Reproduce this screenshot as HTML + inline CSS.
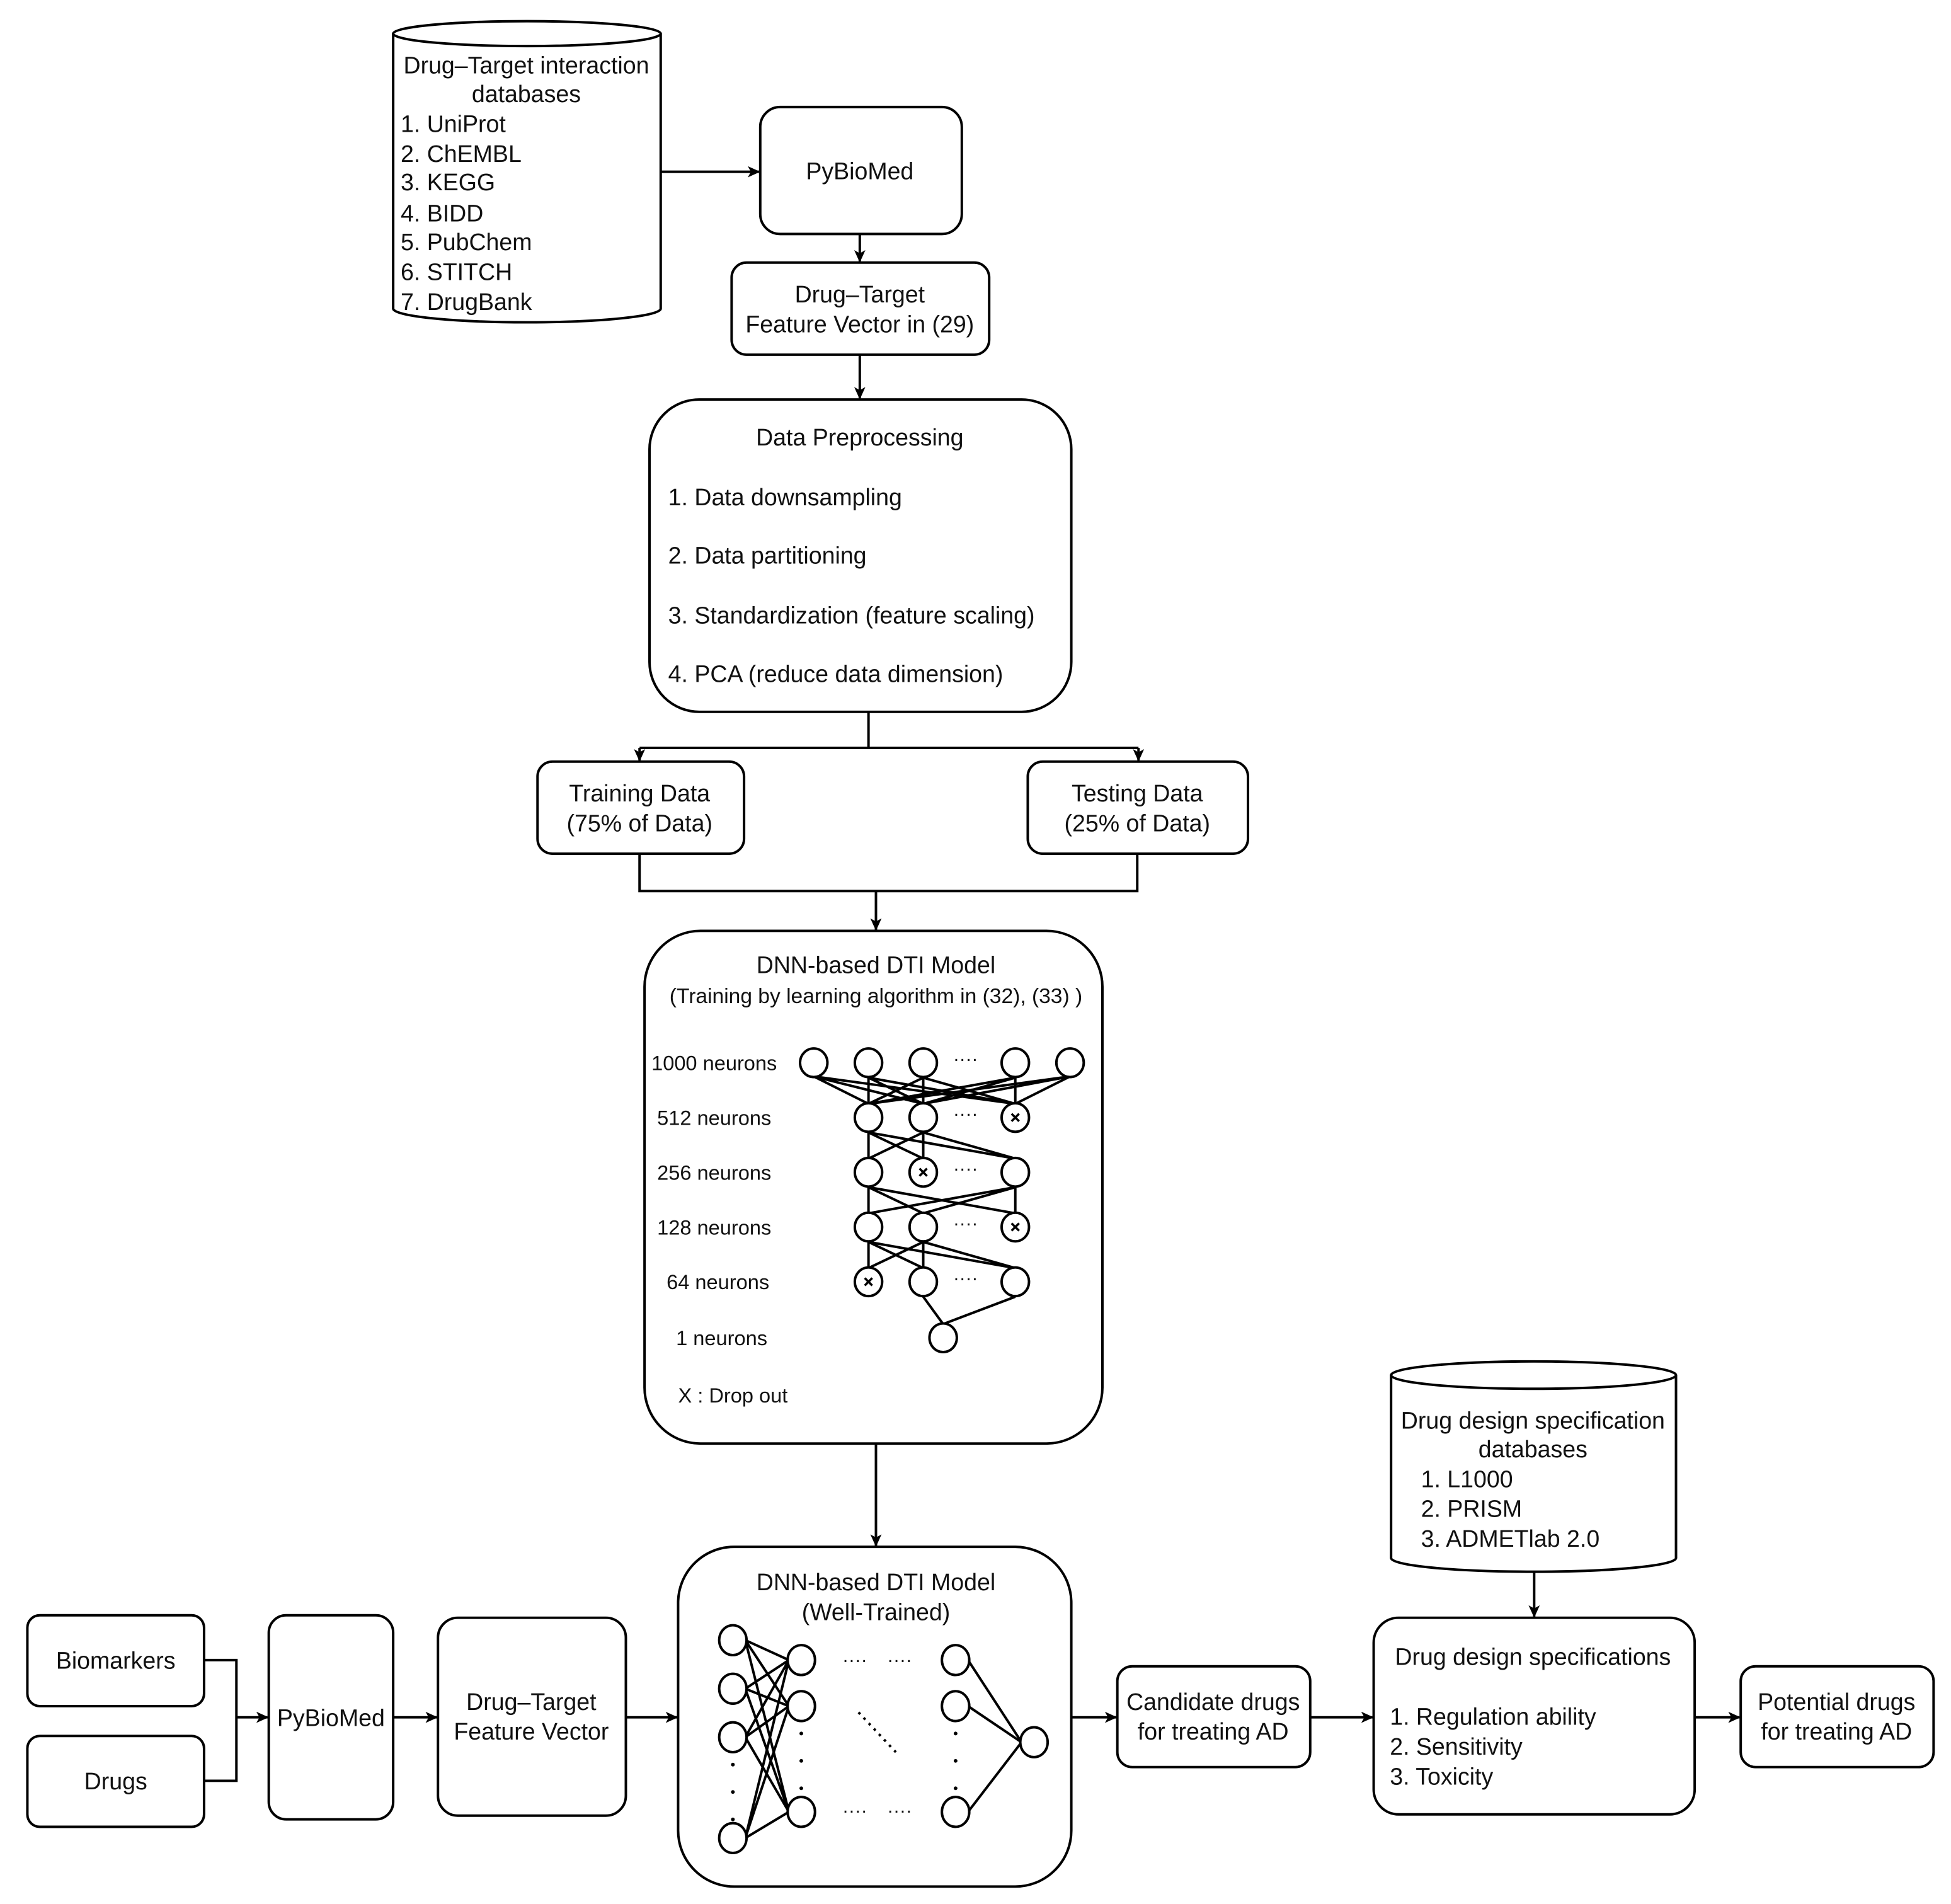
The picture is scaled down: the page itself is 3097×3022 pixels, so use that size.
<!DOCTYPE html>
<html><head><meta charset="utf-8"><style>html,body{margin:0;padding:0;background:#fff}svg{display:block}text{font-family:"Liberation Sans",Arial,sans-serif;fill:#111}</style></head><body>
<svg xmlns="http://www.w3.org/2000/svg" width="3097" height="3022" viewBox="0 0 1568 1530">
<defs><marker id="a" markerWidth="10" markerHeight="10" refX="9" refY="5" orient="auto" markerUnits="userSpaceOnUse"><path d="M0,0.5 L10,5 L0,9.5 L2.5,5 Z" fill="#000"/></marker></defs>
<g fill="none" stroke="#000" stroke-width="2">
<path d="M316,27 L316,248 A107.5,11 0 0 0 531,248 L531,27"/>
<ellipse cx="423.5" cy="27" rx="107.5" ry="10" fill="#fff"/>
<line x1="531" y1="138" x2="610" y2="138" marker-end="url(#a)"/>
<rect x="611" y="86" width="162" height="102" rx="16"/>
<line x1="691" y1="188" x2="691" y2="210" marker-end="url(#a)"/>
<rect x="588" y="211" width="207" height="74" rx="12"/>
<line x1="691" y1="285" x2="691" y2="320" marker-end="url(#a)"/>
<rect x="522" y="321" width="339" height="251" rx="40"/>
<path d="M698,572 V601 M514,601 H915"/>
<line x1="514" y1="601" x2="514" y2="611" marker-end="url(#a)"/>
<line x1="915" y1="601" x2="915" y2="611" marker-end="url(#a)"/>
<rect x="432" y="612" width="166" height="74" rx="12"/>
<rect x="826" y="612" width="177" height="74" rx="12"/>
<path d="M514,686 V716 H914 V686"/>
<line x1="704" y1="716" x2="704" y2="747" marker-end="url(#a)"/>
<rect x="518" y="748" width="368" height="412" rx="45"/>
<line x1="704" y1="1160" x2="704" y2="1242" marker-end="url(#a)"/>
<rect x="545" y="1243" width="316" height="273" rx="45"/>
<rect x="22" y="1298" width="142" height="73" rx="10"/>
<rect x="22" y="1395" width="142" height="73" rx="10"/>
<path d="M164,1334 H190 V1431 H164"/>
<line x1="190" y1="1380" x2="215" y2="1380" marker-end="url(#a)"/>
<rect x="216" y="1298" width="100" height="164" rx="14"/>
<line x1="316" y1="1380" x2="351" y2="1380" marker-end="url(#a)"/>
<rect x="352" y="1300" width="151" height="159" rx="16"/>
<line x1="503" y1="1380" x2="544" y2="1380" marker-end="url(#a)"/>
<line x1="861" y1="1380" x2="897" y2="1380" marker-end="url(#a)"/>
<rect x="898" y="1339" width="155" height="81" rx="12"/>
<line x1="1053" y1="1380" x2="1103" y2="1380" marker-end="url(#a)"/>
<rect x="1104" y="1300" width="258" height="158" rx="20"/>
<line x1="1362" y1="1380" x2="1398" y2="1380" marker-end="url(#a)"/>
<rect x="1399" y="1339" width="155" height="81" rx="12"/>
<path d="M1118,1105 L1118,1252 A114.5,11 0 0 0 1347,1252 L1347,1105"/>
<ellipse cx="1232.5" cy="1105" rx="114.5" ry="11" fill="#fff"/>
<line x1="1233" y1="1263" x2="1233" y2="1299" marker-end="url(#a)"/>
<path d="M654,865 L698,887 M654,865 L742,887 M654,865 L816,887
M698,866 L698,887 M698,866 L742,887 M698,866 L816,887
M742,866 L698,887 M742,866 L742,887 M742,866 L816,887
M816,866 L698,887 M816,866 L742,887 M816,866 L816,887
M860,865 L698,887 M860,865 L742,887 M860,865 L816,887
M698,910 L698,931 M698,910 L742,931 M698,910 L816,931
M742,910 L698,931 M742,910 L742,931 M742,910 L816,931
M698,954 L698,975 M698,954 L742,975 M698,954 L816,975
M816,954 L698,975 M816,954 L742,975 M816,954 L816,975
M698,998 L698,1019 M698,998 L742,1019 M698,998 L816,1019
M742,998 L698,1019 M742,998 L742,1019 M742,998 L816,1019
M742,1042 L758,1064 M816,1042 L758,1064"/>
<g fill="#fff">
<ellipse cx="654" cy="854" rx="11" ry="11.5"/><ellipse cx="698" cy="854" rx="11" ry="11.5"/><ellipse cx="742" cy="854" rx="11" ry="11.5"/><ellipse cx="816" cy="854" rx="11" ry="11.5"/><ellipse cx="860" cy="854" rx="11" ry="11.5"/>
<ellipse cx="698" cy="898" rx="11" ry="11.5"/><ellipse cx="742" cy="898" rx="11" ry="11.5"/><ellipse cx="816" cy="898" rx="11" ry="11.5"/>
<ellipse cx="698" cy="942" rx="11" ry="11.5"/><ellipse cx="742" cy="942" rx="11" ry="11.5"/><ellipse cx="816" cy="942" rx="11" ry="11.5"/>
<ellipse cx="698" cy="986" rx="11" ry="11.5"/><ellipse cx="742" cy="986" rx="11" ry="11.5"/><ellipse cx="816" cy="986" rx="11" ry="11.5"/>
<ellipse cx="698" cy="1030" rx="11" ry="11.5"/><ellipse cx="742" cy="1030" rx="11" ry="11.5"/><ellipse cx="816" cy="1030" rx="11" ry="11.5"/>
<ellipse cx="758" cy="1075" rx="11" ry="11.5"/>
</g>
<path stroke-width="1.8" d="M813,895 l6,6 m0,-6 l-6,6 M739,939 l6,6 m0,-6 l-6,6 M813,983 l6,6 m0,-6 l-6,6 M695,1027 l6,6 m0,-6 l-6,6"/>
<path d="M599,1318 L634,1334 M599,1318 L634,1371 M599,1318 L634,1456
M599,1357 L634,1334 M599,1357 L634,1371 M599,1357 L634,1456
M599,1396 L634,1334 M599,1396 L634,1371 M599,1396 L634,1456
M599,1477 L634,1334 M599,1477 L634,1371 M599,1477 L634,1456
M778,1334 L821,1400 M778,1371 L821,1400 M778,1456 L821,1400"/>
<g fill="#fff">
<ellipse cx="589" cy="1318" rx="11" ry="12"/><ellipse cx="589" cy="1357" rx="11" ry="12"/><ellipse cx="589" cy="1396" rx="11" ry="12"/><ellipse cx="589" cy="1477" rx="11" ry="12"/>
<ellipse cx="644" cy="1334" rx="11" ry="12"/><ellipse cx="644" cy="1371" rx="11" ry="12"/><ellipse cx="644" cy="1456" rx="11" ry="12"/>
<ellipse cx="768" cy="1334" rx="11" ry="12"/><ellipse cx="768" cy="1371" rx="11" ry="12"/><ellipse cx="768" cy="1456" rx="11" ry="12"/>
<ellipse cx="831" cy="1400" rx="11" ry="12"/>
</g>
<path stroke-width="2" stroke-dasharray="2,4" d="M690,1376 L720,1408"/>
</g>
<g fill="#000">
<circle cx="589" cy="1418" r="1.5"/><circle cx="589" cy="1440" r="1.5"/><circle cx="589" cy="1462" r="1.5"/>
<circle cx="644" cy="1393" r="1.5"/><circle cx="644" cy="1415" r="1.5"/><circle cx="644" cy="1437" r="1.5"/>
<circle cx="768" cy="1393" r="1.5"/><circle cx="768" cy="1415" r="1.5"/><circle cx="768" cy="1437" r="1.5"/>
</g>
<g font-size="15"><text x="677" y="1339">····</text><text x="713" y="1339">····</text><text x="677" y="1460">····</text><text x="713" y="1460">····</text>
<text x="766" y="856">····</text><text x="766" y="900">····</text><text x="766" y="944">····</text><text x="766" y="988">····</text><text x="766" y="1032">····</text></g>
<g font-size="19" text-anchor="middle">
<text x="423" y="59">Drug–Target interaction</text><text x="423" y="82">databases</text>
<text x="691" y="144">PyBioMed</text>
<text x="691" y="243">Drug–Target</text><text x="691" y="267">Feature Vector in (29)</text>
<text x="691" y="358">Data Preprocessing</text>
<text x="514" y="644">Training Data</text><text x="514" y="668">(75% of Data)</text>
<text x="914" y="644">Testing Data</text><text x="914" y="668">(25% of Data)</text>
<text x="704" y="782">DNN-based DTI Model</text>
<text x="704" y="1278">DNN-based DTI Model</text><text x="704" y="1302">(Well-Trained)</text>
<text x="93" y="1341">Biomarkers</text><text x="93" y="1438">Drugs</text>
<text x="266" y="1387">PyBioMed</text>
<text x="427" y="1374">Drug–Target</text><text x="427" y="1398">Feature Vector</text>
<text x="975" y="1374">Candidate drugs</text><text x="975" y="1398">for treating AD</text>
<text x="1232" y="1338">Drug design specifications</text>
<text x="1476" y="1374">Potential drugs</text><text x="1476" y="1398">for treating AD</text>
<text x="1232" y="1148">Drug design specification</text><text x="1232" y="1171">databases</text>
</g>
<g font-size="19">
<text x="322" y="106">1. UniProt</text><text x="322" y="130">2. ChEMBL</text><text x="322" y="153">3. KEGG</text><text x="322" y="178">4. BIDD</text><text x="322" y="201">5. PubChem</text><text x="322" y="225">6. STITCH</text><text x="322" y="249">7. DrugBank</text>
<text x="537" y="406">1. Data downsampling</text><text x="537" y="453">2. Data partitioning</text><text x="537" y="501">3. Standardization (feature scaling)</text><text x="537" y="548">4. PCA (reduce data dimension)</text>
<text x="1117" y="1386">1. Regulation ability</text><text x="1117" y="1410">2. Sensitivity</text><text x="1117" y="1434">3. Toxicity</text>
<text x="1142" y="1195">1. L1000</text><text x="1142" y="1219">2. PRISM</text><text x="1142" y="1243">3. ADMETlab 2.0</text>
</g>
<text x="704" y="806" font-size="17" text-anchor="middle">(Training by learning algorithm in (32), (33) )</text>
<g font-size="16.5" text-anchor="middle">
<text x="574" y="860">1000 neurons</text><text x="574" y="904">512 neurons</text><text x="574" y="948">256 neurons</text><text x="574" y="992">128 neurons</text><text x="577" y="1036">64 neurons</text><text x="580" y="1081">1 neurons</text>
</g>
<text x="545" y="1127" font-size="16.5">X : Drop out</text>
</svg>
</body></html>
